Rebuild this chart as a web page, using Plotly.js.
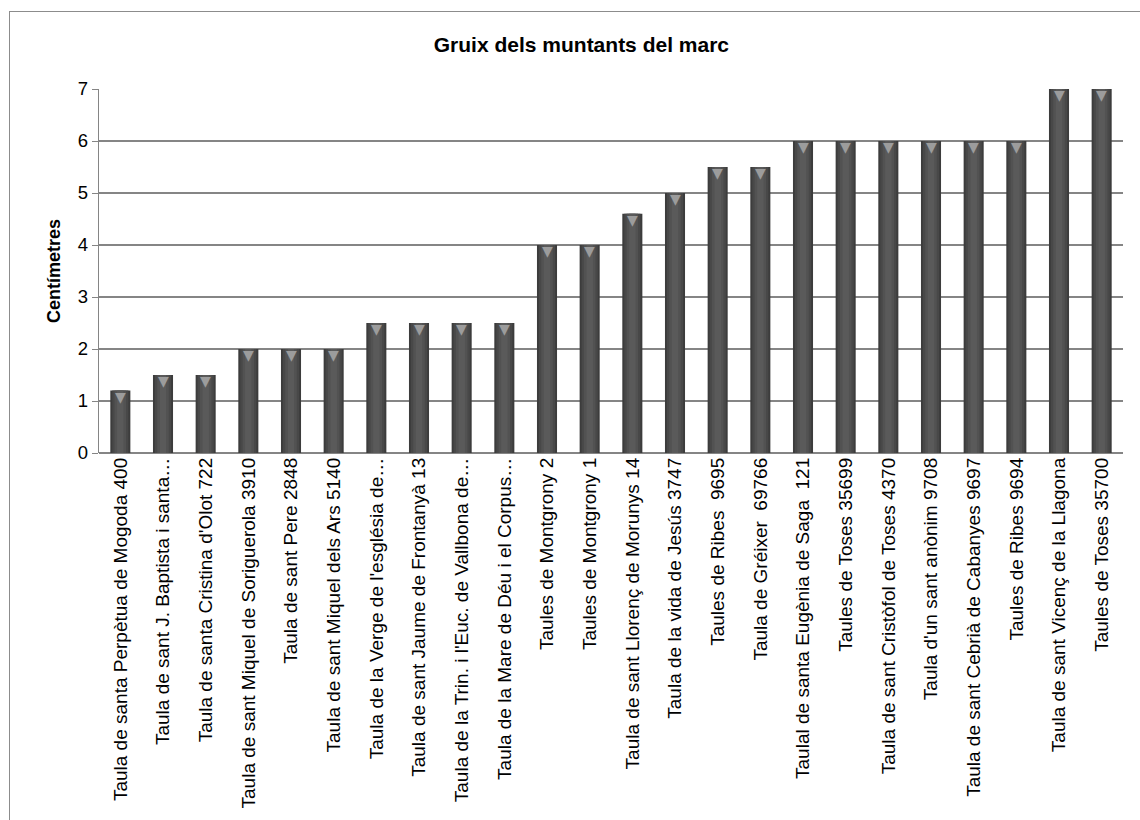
<!DOCTYPE html>
<html>
<head>
<meta charset="utf-8">
<script src="https://cdn.plot.ly/plotly-3.0.1.min.js"></script>
<style>
  html, body { margin: 0; padding: 0; background: #fff; }
  #wrap { position: relative; width: 1140px; height: 820px; overflow: hidden; }
  #frame { position: absolute; left: 9px; top: 11px; width: 1200px; height: 900px;
           border-left: 1px solid #8c8c8c; border-top: 1px solid #8c8c8c; pointer-events: none; }
  #chart { position: absolute; left: 0; top: 0; width: 1140px; height: 820px; }
</style>
</head>
<body>
<div id="wrap">
  <div id="chart"></div>
  <div id="frame"></div>
</div>
<script>
// Panels (taules) in order of frame-post thickness
const categories = [
  "Taula de santa Perpètua de Mogoda 400",
  "Taula de sant J. Baptista i santa…",
  "Taula de santa Cristina d'Olot 722",
  "Taula de sant Miquel de Soriguerola 3910",
  "Taula de sant Pere 2848",
  "Taula de sant Miquel dels Ars 5140",
  "Taula de la Verge de l'església de…",
  "Taula de sant Jaume de Frontanyà 13",
  "Taula de la Trin. i l'Euc. de Vallbona de…",
  "Taula de la Mare de Déu i el Corpus…",
  "Taules de Montgrony 2",
  "Taules de Montgrony 1",
  "Taula de sant Llorenç de Morunys 14",
  "Taula de la vida de Jesús 3747",
  "Taules de Ribes  9695",
  "Taula de Gréixer  69766",
  "Taulal de santa Eugènia de Saga  121",
  "Taules de Toses 35699",
  "Taula de sant Cristòfol de Toses 4370",
  "Taula d'un sant anònim 9708",
  "Taula de sant Cebrià de Cabanyes 9697",
  "Taules de Ribes 9694",
  "Taula de sant Vicenç de la Llagona",
  "Taules de Toses 35700"
];

// Thickness of the frame posts, in centimetres
const thickness = [1.2, 1.5, 1.5, 2, 2, 2, 2.5, 2.5, 2.5, 2.5, 4, 4, 4.6, 5, 5.5, 5.5, 6, 6, 6, 6, 6, 6, 7, 7];

const yTicks = [0, 1, 2, 3, 4, 5, 6, 7];

const font = "Arial, 'Liberation Sans', sans-serif";

// Cylinder look: dark edges, stepping lighter toward the middle of each bar
const shades = [
  { width: 0.47, color: "#3c3c3c" },
  { width: 0.38, color: "#484848" },
  { width: 0.27, color: "#525252" },
  { width: 0.15, color: "#5a5a5a" }
];
const traces = shades.map((s, k) => ({
  type: "bar", x: categories, y: thickness, width: s.width,
  marker: { color: s.color, line: { width: 0 } },
  hoverinfo: k === 0 ? "x+y" : "skip", showlegend: false
}));

// Light bevel at the top of each bar
const bevels = categories.map((c, i) => ({
  x: c, y: thickness[i], xref: "x", yref: "y",
  text: "▼", showarrow: false, yanchor: "top", yshift: 4,
  font: { family: "DejaVu Sans", size: 14, color: "#9c9c9c" }
}));

const layout = {
  width: 1140, height: 820,
  margin: { l: 99, r: 17, t: 89, b: 367, pad: 0 },
  paper_bgcolor: "rgba(0,0,0,0)", plot_bgcolor: "rgba(0,0,0,0)",
  barmode: "overlay",
  title: {
    text: "<b>Gruix dels muntants del marc</b>",
    font: { family: font, size: 21, color: "#000" },
    x: 0.51, xanchor: "center", xref: "container",
    y: 0.946, yanchor: "middle", yref: "container"
  },
  xaxis: {
    type: "category", tickangle: -90,
    tickfont: { family: font, size: 19, color: "#000" },
    showgrid: false, showline: false, ticks: "",
    automargin: false, fixedrange: true
  },
  yaxis: {
    range: [0, 7], tickvals: yTicks,
    tickfont: { family: font, size: 18.5, color: "#000" },
    showgrid: true, gridcolor: "#858585", gridwidth: 1.2,
    showline: true, linecolor: "#858585", linewidth: 1.2,
    ticks: "outside", ticklen: 6, tickcolor: "#858585",
    zeroline: true, zerolinecolor: "#858585", zerolinewidth: 1.2,
    title: { text: "<b>Centímetres</b>", font: { family: font, size: 18, color: "#000" }, standoff: 12 },
    automargin: false, fixedrange: true
  },
  annotations: bevels
};

Plotly.newPlot("chart", traces, layout, { displayModeBar: false, staticPlot: true });
</script>
</body>
</html>
